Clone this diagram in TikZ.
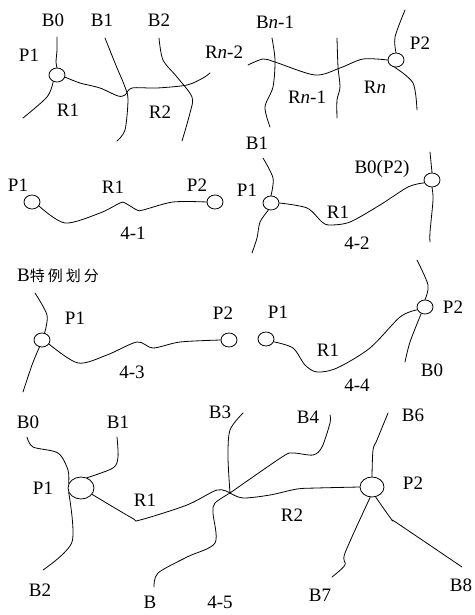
\documentclass[tikz,border=0pt]{standalone}
\usepackage{fontspec}
\setmainfont{Liberation Serif}
\newfontfamily\cjk{Noto Sans CJK SC}
\usetikzlibrary{shapes.geometric}
\begin{document}
\begin{tikzpicture}[x=1pt,y=-1pt,
  lab/.style={inner sep=0pt,text depth=0pt,text height=12.5pt,font=\fontsize{19}{19}\selectfont},
  pt/.style={draw,ellipse,line width=0.8pt,inner sep=0pt,minimum width=16pt,minimum height=14pt},
  bigpt/.style={pt,minimum width=26pt,minimum height=22pt},
  ln/.style={line width=0.8pt,line cap=round,line join=round}]
\useasboundingbox (0,0) rectangle (474,615);
\newcommand{\nn}{\textit{n}}
% ---------- top figure ----------
\node[pt] (pa1) at (57,75) {};
\node[pt] (pa2) at (396,60) {};
\draw[ln] plot[smooth,tension=0.5] coordinates {(57,37) (57,50) (56,62) (pa1.north)};
\draw[ln] plot[smooth,tension=0.5] coordinates {(pa1.240) (47,97) (23,118)};
\draw[ln] plot[smooth,tension=0.5] coordinates {(pa1.-15) (80,83) (100,88) (118,96) (125,95) (132,88) (157,88) (187,85) (203,78) (210,73)};
\draw[ln] plot[smooth,tension=0.5] coordinates {(105,38) (115,63) (125,87) (128,100) (125,130) (117,141)};
\draw[ln] plot[smooth,tension=0.5] coordinates {(159,38) (163,60) (177,77) (192,97) (190,113) (182,141)};
\draw[ln] plot[smooth,tension=0.5] coordinates {(248,65) (263,59) (275,62) (315,75) (340,68) (363,59) (pa2.west)};
\draw[ln] plot[smooth,tension=0.5] coordinates {(272,38) (275,60) (273,87) (265,107) (270,127)};
\draw[ln] plot[smooth,tension=0.5] coordinates {(337,38) (338,67) (340,87) (337,100) (337,118)};
\draw[ln] plot[smooth,tension=0.5] coordinates {(pa2.north) (395,37) (405,10)};
\draw[ln] plot[smooth,tension=0.5] coordinates {(pa2.-100) (413,83) (417,110)};
\node[lab] (ta1) at (53,20) {B0};
\node[lab] (ta2) at (102,20) {B1};
\node[lab] (ta3) at (159,20) {B2};
\node[lab] (ta4) at (29,55) {P1};
\node[lab] (ta5) at (224,52) {R\nn-2};
\node[lab] (ta6) at (68,110) {R1};
\node[lab] (ta7) at (160,112) {R2};
\node[lab] (ta8) at (275,22) {B\nn-1};
\node[lab] (ta9) at (420,43) {P2};
\node[lab] (ta10) at (375,87) {R\nn};
\node[lab] (ta11) at (307,97) {R\nn-1};
% ---------- 4-1 ----------
\node[pt] (pb1) at (32,202) {};
\node[pt] (pb2) at (215,202) {};
\draw[ln] plot[smooth,tension=0.5] coordinates {(pb1.-30) (65,223) (100,213) (120,203) (125,203) (137,210) (143,210) (173,202) (pb2.west)};
\node[lab] (tb1) at (18,185) {P1};
\node[lab] (tb2) at (113,187) {R1};
\node[lab] (tb3) at (197,185) {P2};
\node[lab] (tb4) at (133,233) {4-1};
% ---------- 4-2 ----------
\node[pt] (pc1) at (271,203) {};
\node[pt] (pc2) at (432,180) {};
\draw[ln] plot[smooth,tension=0.5] coordinates {(263,158) (273,178) (pc1.north)};
\draw[ln] plot[smooth,tension=0.5] coordinates {(pc1.-110) (260,222) (257,238) (252,253)};
\draw[ln] plot[smooth,tension=0.5] coordinates {(pc1.east) (307,208) (322,222) (330,225) (350,222) (380,205) (408,187) (pc2.200)};
\draw[ln] (430,152) -- (pc2.north);
\draw[ln] plot[smooth,tension=0.5] coordinates {(pc2.south) (433,200) (430,232) (430,242)};
\node[lab] (tc1) at (257,143) {B1};
\node[lab] (tc2) at (247,190) {P1};
\node[lab] (tc3) at (382,167) {B0(P2)};
\node[lab] (tc4) at (338,212) {R1};
\node[lab] (tc5) at (357,243) {4-2};
% ---------- 4-3 ----------
\node[pt] (pd1) at (42,340) {};
\node[pt] (pd2) at (229,340) {};
\draw[ln] plot[smooth,tension=0.5] coordinates {(35,293) (47,315) (pd1.70)};
\draw[ln] plot[smooth,tension=0.5] coordinates {(pd1.-110) (32,365) (23,392)};
\draw[ln] plot[smooth,tension=0.5] coordinates {(pd1.-30) (78,363) (107,355) (137,342) (153,348) (180,342) (pd2.west)};
\node[lab,anchor=west] (td1) at (17,275) {B{\cjk\fontsize{15}{15}\selectfont 特\hspace{3pt}例\hspace{3pt}划\hspace{3pt}分}};
\node[lab] (td2) at (75,318) {P1};
\node[lab] (td3) at (223,313) {P2};
\node[lab] (td4) at (132,372) {4-3};
% ---------- 4-4 ----------
\node[pt] (pe1) at (266,339) {};
\node[pt] (pe2) at (425,307) {};
\draw[ln] plot[smooth,tension=0.5] coordinates {(417,260) (428,285) (pe2.north)};
\draw[ln] plot[smooth,tension=0.5] coordinates {(pe2.-120) (410,342) (405,362)};
\draw[ln] plot[smooth,tension=0.5] coordinates {(pe1.-20) (293,348) (305,365) (317,372) (337,368) (370,348) (400,317) (pe2.-160)};
\node[lab] (te1) at (278,312) {P1};
\node[lab] (te2) at (453,307) {P2};
\node[lab] (te3) at (328,350) {R1};
\node[lab] (te4) at (432,370) {B0};
\node[lab] (te5) at (357,385) {4-4};
% ---------- 4-5 ----------
\node[bigpt] (pf1) at (81,488) {};
\node[bigpt,minimum width=24pt,minimum height=20pt] (pf2) at (372,487) {};
\coordinate (j) at (230,493);
\draw[ln] plot[smooth,tension=0.5] coordinates {(27,437) (33,447) (58,453) (68,470) (pf1.160)};
\draw[ln] plot[smooth,tension=0.5] coordinates {(117,437) (118,457) (113,468) (pf1.60)};
\draw[ln] plot[smooth,tension=0.5] coordinates {(pf1.200) (72,542) (43,570)};
\draw[ln] plot[smooth,tension=0.5] coordinates {(pf1.-30) (132,518) (140,520) (187,505) (217,490) (j)};
\draw[ln] plot[smooth,tension=0.5] coordinates {(243,413) (230,430) (228,457) (j)};
\draw[ln] plot[smooth,tension=0.5] coordinates {(j) (215,503) (213,513) (215,543) (187,557) (158,573) (154,587)};
\draw[ln] plot[smooth,tension=0.5] coordinates {(j) (282,457) (293,453) (313,455) (322,447) (330,423) (330,415)};
\draw[ln] plot[smooth,tension=0.5] coordinates {(j) (243,498) (270,495) (297,489) (317,488) (pf2.west)};
\draw[ln] plot[smooth,tension=0.5] coordinates {(388,413) (377,440) (373,450) (pf2.north)};
\draw[ln] plot[smooth,tension=0.5] coordinates {(pf2.-100) (345,553) (345,565) (332,577)};
\draw[ln] plot[smooth,tension=0.5] coordinates {(pf2.-70) (392,520) (397,523) (462,567)};
\node[lab] (tf1) at (28,422) {B0};
\node[lab] (tf2) at (118,422) {B1};
\node[lab] (tf3) at (220,412) {B3};
\node[lab] (tf4) at (43,488) {P1};
\node[lab] (tf5) at (145,500) {R1};
\node[lab] (tf6) at (40,590) {B2};
\node[lab] (tf7) at (150,602) {B};
\node[lab] (tf8) at (220,602) {4-5};
\node[lab] (tf9) at (308,417) {B4};
\node[lab] (tf10) at (413,415) {B6};
\node[lab] (tf11) at (413,483) {P2};
\node[lab] (tf12) at (292,515) {R2};
\node[lab] (tf13) at (320,595) {B7};
\node[lab] (tf14) at (461,585) {B8};
\end{tikzpicture}
\end{document}
